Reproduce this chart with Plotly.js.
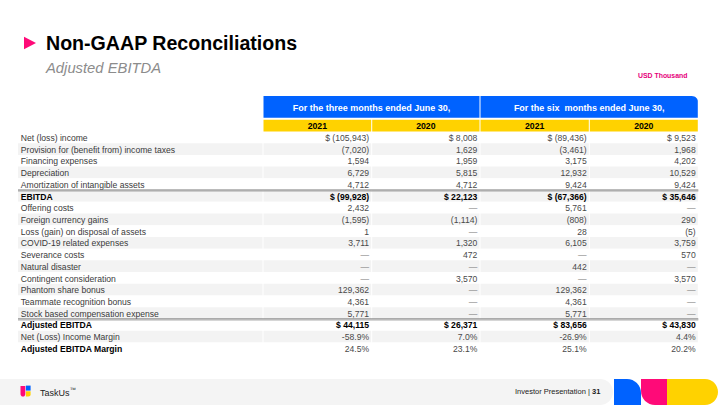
<!DOCTYPE html>
<html><head><meta charset="utf-8">
<script src="https://cdn.plot.ly/plotly-3.0.1.min.js"></script>
<style>html,body{margin:0;padding:0;background:#fff;}#chart{width:720px;height:405px;}</style>
</head><body><div id="chart"></div>
<script>
const rowLabels = ["Net (loss) income", "Provision for (benefit from) income taxes", "Financing expenses", "Depreciation", "Amortization of intangible assets", "EBITDA", "Offering costs", "Foreign currency gains", "Loss (gain) on disposal of assets", "COVID-19 related expenses", "Severance costs", "Natural disaster", "Contingent consideration", "Phantom share bonus", "Teammate recognition bonus", "Stock based compensation expense", "Adjusted EBITDA", "Net (Loss) Income Margin", "Adjusted EBITDA Margin"];
const boldLabelRows = ["EBITDA", "Adjusted EBITDA", "Adjusted EBITDA Margin"];
const boldValueRows = ["EBITDA", "Adjusted EBITDA"];
const ruleAfterRows = ["Amortization of intangible assets", "Stock based compensation expense"];
const periodHeaders = ["For the three months ended June 30,", "For the six\u00a0 months ended June 30,"];
const yearHeaders = ["2021", "2020", "2021", "2020"];
const threeMonths2021 = ["$ (105,943)", "(7,020)", "1,594", "6,729", "4,712", "$ (99,928)", "2,432", "(1,595)", "1", "3,711", "—", "—", "—", "129,362", "4,361", "5,771", "$ 44,115", "-58.9%", "24.5%"];
const threeMonths2020 = ["$ 8,008", "1,629", "1,959", "5,815", "4,712", "$ 22,123", "—", "(1,114)", "—", "1,320", "472", "—", "3,570", "—", "—", "—", "$ 26,371", "7.0%", "23.1%"];
const sixMonths2021 = ["$ (89,436)", "(3,461)", "3,175", "12,932", "9,424", "$ (67,366)", "5,761", "(808)", "28", "6,105", "—", "442", "—", "129,362", "4,361", "5,771", "$ 83,656", "-26.9%", "25.1%"];
const sixMonths2020 = ["$ 9,523", "1,968", "4,202", "10,529", "9,424", "$ 35,646", "—", "290", "(5)", "3,759", "570", "—", "3,570", "—", "—", "—", "$ 43,830", "4.4%", "20.2%"];

// ---- styling / geometry (not data) ----
const BLUE = "#0062ff", YELLOW = "#ffd200", PINK = "#ff0a78", GREY = "#f3f3f3";
const F = "Liberation Sans, Arial, sans-serif";
const W = 720, H = 405;
const ROW0 = 137.3, PITCH = 11.72;          // pixel centre of first body row, row pitch
const TEXT_DY = 0.13;                       // small downward nudge of cell text (in rows)
const colEdges = [18, 263, 371.7, 480, 589.3, 698.3];
const YEAR_ROW = -1, YEAR_H = 1;            // yellow header row (row units)
const PERIOD_ROW = -2.6, PERIOD_H = 1.85;   // blue header row (row units)

const valueCols = [threeMonths2021, threeMonths2020, sixMonths2021, sixMonths2020];
const rowIdx = rowLabels.map((_, i) => i);
const rowFill = rowLabels.map((_, i) => i % 2 ? GREY : "#ffffff");
const isBoldLabel = rowLabels.map(l => boldLabelRows.includes(l));
const isBoldValue = rowLabels.map(l => boldValueRows.includes(l));

const traces = [];
// body cell fills, one bar per cell
for (let c = 0; c < colEdges.length - 1; c++) {
  const base = c === 0 ? colEdges[c] : colEdges[c] + 0.5;
  const len = colEdges[c + 1] - 0.5 - base;
  traces.push({
    type: "bar", orientation: "h", xaxis: "x", yaxis: "y2",
    y: rowIdx, x: rowIdx.map(() => len), base: base, width: 1,
    marker: {color: rowFill, line: {width: 0}}, hoverinfo: "skip"
  });
}
// yellow year header cells
traces.push({
  type: "bar", orientation: "h", xaxis: "x", yaxis: "y2",
  y: yearHeaders.map(() => YEAR_ROW),
  x: yearHeaders.map((_, i) => colEdges[i + 2] - colEdges[i + 1] - 1),
  base: yearHeaders.map((_, i) => colEdges[i + 1] + 0.5),
  width: YEAR_H, marker: {color: YELLOW, line: {width: 0}}, hoverinfo: "skip"
});
// blue period header cells (each spans two year columns)
traces.push({
  type: "bar", orientation: "h", xaxis: "x", yaxis: "y2",
  y: periodHeaders.map(() => PERIOD_ROW),
  x: periodHeaders.map((_, i) => colEdges[2 * i + 3] - colEdges[2 * i + 1] - 1),
  base: periodHeaders.map((_, i) => colEdges[2 * i + 1] + 0.5),
  width: PERIOD_H, marker: {color: BLUE, line: {width: 0}}, hoverinfo: "skip"
});
// header texts
traces.push({
  type: "scatter", mode: "text", xaxis: "x", yaxis: "y2",
  x: periodHeaders.map((_, i) => (colEdges[2 * i + 1] + colEdges[2 * i + 3]) / 2),
  y: periodHeaders.map(() => PERIOD_ROW + TEXT_DY),
  text: periodHeaders.map(t => "<b>" + t + "</b>"),
  textposition: "middle center", textfont: {family: F, size: 9, color: "#ffffff"}, hoverinfo: "skip"
});
traces.push({
  type: "scatter", mode: "text", xaxis: "x", yaxis: "y2",
  x: yearHeaders.map((_, i) => (colEdges[i + 1] + colEdges[i + 2]) / 2),
  y: yearHeaders.map(() => YEAR_ROW + TEXT_DY),
  text: yearHeaders.map(t => "<b>" + t + "</b>"),
  textposition: "middle center", textfont: {family: F, size: 8.7, color: "#000"}, hoverinfo: "skip"
});
// row labels
traces.push({
  type: "scatter", mode: "text", xaxis: "x", yaxis: "y2",
  x: rowIdx.map(() => colEdges[0] + 2.8), y: rowIdx.map(i => i + TEXT_DY),
  text: rowLabels.map((l, i) => isBoldLabel[i] ? "<b>" + l + "</b>" : l),
  textposition: "middle right",
  textfont: {family: F, size: 8.6, color: rowIdx.map(i => isBoldLabel[i] ? "#000" : "#3a3a3a")},
  hoverinfo: "skip"
});
// values
valueCols.forEach((col, c) => {
  traces.push({
    type: "scatter", mode: "text", xaxis: "x", yaxis: "y2",
    x: rowIdx.map(() => colEdges[c + 2] - 2.6), y: rowIdx.map(i => i + TEXT_DY),
    text: col.map((v, i) => isBoldValue[i] ? "<b>" + v + "</b>" : v),
    textposition: "middle left",
    textfont: {family: F, size: 8.6, color: rowIdx.map(i => isBoldValue[i] ? "#000" : (col[i] === "—" ? "#777" : "#4a4a4a"))},
    hoverinfo: "skip"
  });
});

const k = 0.5523;
const rr = r => r * k;
const shapes = [
  {type: "path", xref: "x", yref: "y", path: "M24,36.7 L24,49.3 L36,43 Z", fillcolor: PINK, line: {width: 0}},
  // header rounded corner mask
  {type: "path", xref: "x", yref: "y", layer: "above", path: `M699,95 L699,102.5 L698.3,102.5 C698.3,${102.5 - rr(6.5)} ${691.8 + rr(6.5)},${96} 691.8,96 L691.8,95 Z`, fillcolor: "#ffffff", line: {width: 0}},
  // footer grey band
  {type: "path", xref: "x", yref: "y", path: `M0,379 H600 C${600 + rr(13)},379 613,${392 - rr(13)} 613,392 C613,${392 + rr(13)} ${600 + rr(13)},405 600,405 H0 Z`, fillcolor: "#f4f4f4", line: {width: 0}},
  {type: "path", xref: "x", yref: "y", path: `M614,405 V379 H627 C${627 + rr(14)},379 641,${393 - rr(14)} 641,393 V405 Z`, fillcolor: BLUE, line: {width: 0}},
  {type: "path", xref: "x", yref: "y", path: `M641,379 H667 V405 H655 C${655 - rr(14)},405 641,${391 + rr(14)} 641,391 Z`, fillcolor: PINK, line: {width: 0}},
  {type: "path", xref: "x", yref: "y", path: `M667,379 H705 C${705 + rr(13)},379 718,${392 - rr(13)} 718,392 C718,${392 + rr(13)} ${705 + rr(13)},405 705,405 H667 Z`, fillcolor: YELLOW, line: {width: 0}},
  // logo
  {type: "path", xref: "x", yref: "y", path: "M20.5,386 H25.3 V394 C25.3,395.5 24.5,396.6 23,396.6 C21.5,396.6 20.5,395.5 20.5,394 Z", fillcolor: PINK, line: {width: 0}},
  {type: "path", xref: "x", yref: "y", path: "M25.9,385.6 H30.6 V390.6 H25.9 Z", fillcolor: BLUE, line: {width: 0}},
  {type: "path", xref: "x", yref: "y", path: "M25.9,391.2 H30.6 V394.3 C30.6,395.6 29.7,396.6 28.3,396.6 H25.9 Z", fillcolor: YELLOW, line: {width: 0}}
];
// double rule lines under subtotal rows (drawn on the row axis)
ruleAfterRows.forEach(l => {
  const i = rowLabels.indexOf(l);
  shapes.push({type: "line", xref: "x", yref: "y2", layer: "above", x0: colEdges[0], x1: colEdges[5], y0: i + 0.5, y1: i + 0.5, line: {color: "#6e6e6e", width: 1}});
  shapes.push({type: "line", xref: "x", yref: "y2", layer: "above", x0: colEdges[0], x1: colEdges[5], y0: i + 0.5 + 1.1 / PITCH, y1: i + 0.5 + 1.1 / PITCH, line: {color: "#b5b5b5", width: 1}});
});

const annotations = [
  {text: "<b>Non-GAAP Reconciliations</b>", x: 44.5, y: 43, xanchor: "left", yanchor: "middle", font: {family: F, size: 19.6, color: "#000"}},
  {text: "<i>Adjusted EBITDA</i>", x: 43.5, y: 68, xanchor: "left", yanchor: "middle", font: {family: F, size: 14.8, color: "#8c8c8c"}},
  {text: "<b>USD Thousand</b>", x: 688, y: 75, xanchor: "right", yanchor: "middle", font: {family: F, size: 6.9, color: "#e6007a"}},
  {text: "TaskUs<sup>™</sup>", x: 38.5, y: 391.5, xanchor: "left", yanchor: "middle", font: {family: F, size: 9, color: "#222"}},
  {text: "Investor Presentation | <b>31</b>", x: 600.5, y: 391, xanchor: "right", yanchor: "middle", font: {family: F, size: 7.5, color: "#222"}}
].map(a => Object.assign({xref: "x", yref: "y", showarrow: false, borderpad: 0}, a));

const layout = {
  width: W, height: H,
  margin: {l: 0, r: 0, t: 0, b: 0, pad: 0},
  paper_bgcolor: "#ffffff", plot_bgcolor: "rgba(0,0,0,0)",
  showlegend: false, barmode: "overlay",
  xaxis: {range: [0, W], visible: false, fixedrange: true},
  yaxis: {range: [H, 0], visible: false, fixedrange: true},
  yaxis2: {range: [(H - ROW0) / PITCH, -ROW0 / PITCH], overlaying: "y", visible: false, fixedrange: true},
  shapes: shapes,
  annotations: annotations
};

Plotly.newPlot("chart", traces, layout, {staticPlot: true, displayModeBar: false});
</script>
</body></html>
